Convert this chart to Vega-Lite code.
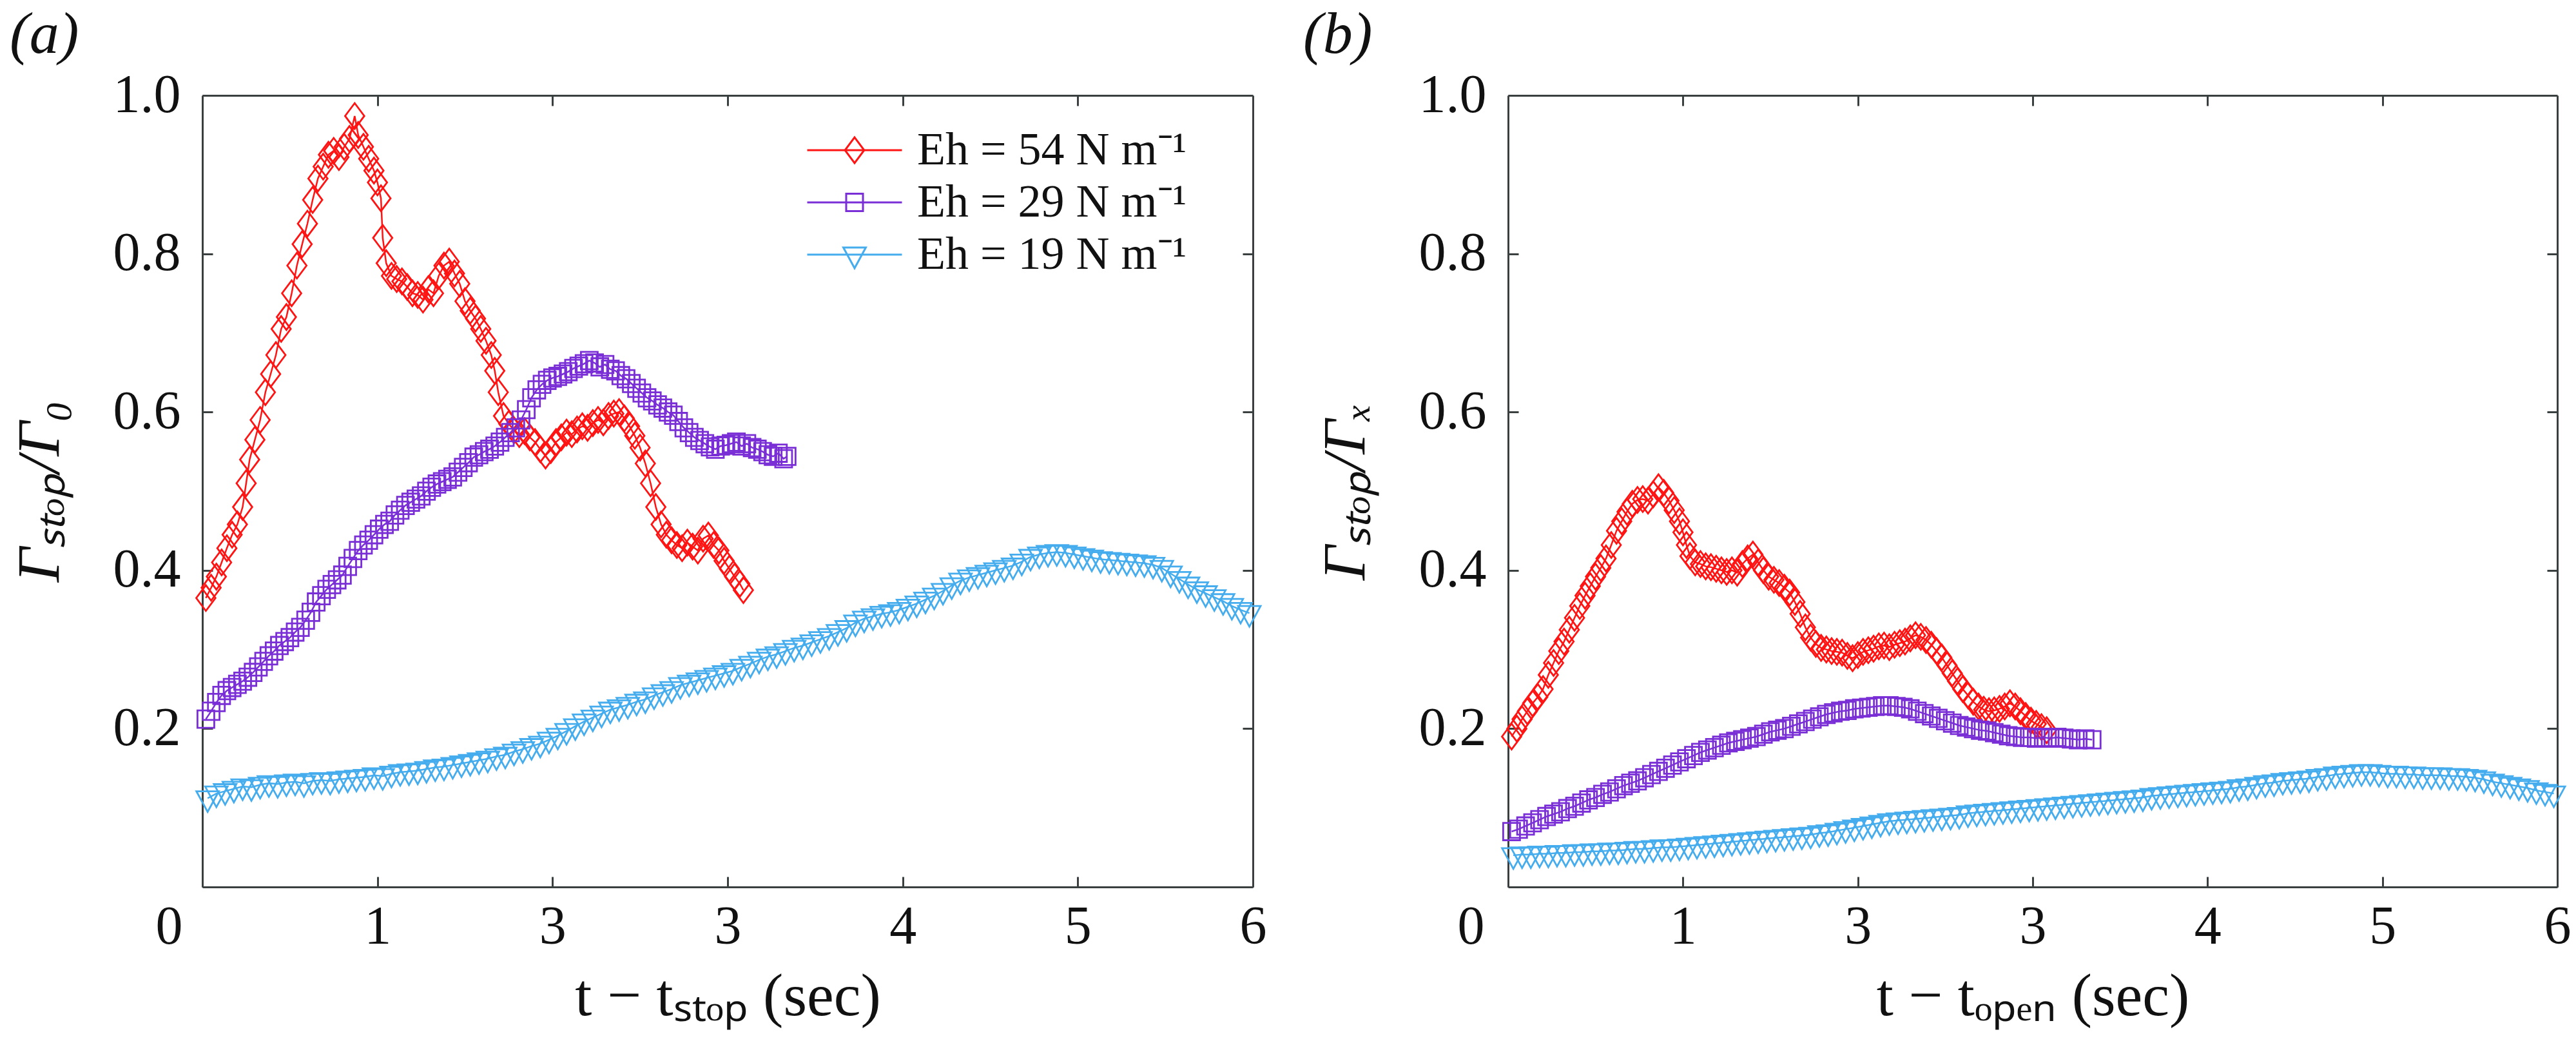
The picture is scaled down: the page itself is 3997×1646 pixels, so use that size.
{
  "$schema": "https://vega.github.io/schema/vega-lite/v6.json",
  "background": "white",
  "padding": {"left": 15, "top": 8, "right": 25, "bottom": 10},
  "datasets": {
    "a": [
      {"s":"54","t":0.02,"v":0.365},{"s":"54","t":0.05,"v":0.378},{"s":"54","t":0.08,"v":0.392},{"s":"54","t":0.11,"v":0.41},{"s":"54","t":0.14,"v":0.428},{"s":"54","t":0.17,"v":0.445},{"s":"54","t":0.2,"v":0.458},{"s":"54","t":0.23,"v":0.48},{"s":"54","t":0.25,"v":0.51},{"s":"54","t":0.27,"v":0.54},{"s":"54","t":0.3,"v":0.565},{"s":"54","t":0.33,"v":0.59},{"s":"54","t":0.36,"v":0.625},{"s":"54","t":0.39,"v":0.648},{"s":"54","t":0.42,"v":0.672},{"s":"54","t":0.45,"v":0.705},{"s":"54","t":0.48,"v":0.72},{"s":"54","t":0.51,"v":0.75},{"s":"54","t":0.54,"v":0.785},{"s":"54","t":0.57,"v":0.812},{"s":"54","t":0.6,"v":0.838},{"s":"54","t":0.63,"v":0.868},{"s":"54","t":0.66,"v":0.895},{"s":"54","t":0.69,"v":0.91},{"s":"54","t":0.72,"v":0.925},{"s":"54","t":0.75,"v":0.93},{"s":"54","t":0.78,"v":0.922},{"s":"54","t":0.81,"v":0.935},{"s":"54","t":0.84,"v":0.945},{"s":"54","t":0.87,"v":0.974},{"s":"54","t":0.89,"v":0.95},{"s":"54","t":0.92,"v":0.935},{"s":"54","t":0.95,"v":0.92},{"s":"54","t":0.98,"v":0.905},{"s":"54","t":1.0,"v":0.89},{"s":"54","t":1.02,"v":0.87},{"s":"54","t":1.03,"v":0.82},{"s":"54","t":1.05,"v":0.788},{"s":"54","t":1.08,"v":0.772},{"s":"54","t":1.11,"v":0.768},{"s":"54","t":1.14,"v":0.765},{"s":"54","t":1.17,"v":0.758},{"s":"54","t":1.2,"v":0.75},{"s":"54","t":1.23,"v":0.748},{"s":"54","t":1.26,"v":0.742},{"s":"54","t":1.29,"v":0.755},{"s":"54","t":1.32,"v":0.75},{"s":"54","t":1.35,"v":0.772},{"s":"54","t":1.38,"v":0.785},{"s":"54","t":1.41,"v":0.79},{"s":"54","t":1.44,"v":0.775},{"s":"54","t":1.47,"v":0.762},{"s":"54","t":1.5,"v":0.74},{"s":"54","t":1.53,"v":0.728},{"s":"54","t":1.56,"v":0.718},{"s":"54","t":1.59,"v":0.705},{"s":"54","t":1.62,"v":0.69},{"s":"54","t":1.65,"v":0.672},{"s":"54","t":1.67,"v":0.652},{"s":"54","t":1.69,"v":0.625},{"s":"54","t":1.72,"v":0.595},{"s":"54","t":1.75,"v":0.585},{"s":"54","t":1.78,"v":0.577},{"s":"54","t":1.81,"v":0.572},{"s":"54","t":1.84,"v":0.576},{"s":"54","t":1.87,"v":0.568},{"s":"54","t":1.9,"v":0.562},{"s":"54","t":1.93,"v":0.553},{"s":"54","t":1.96,"v":0.545},{"s":"54","t":1.99,"v":0.552},{"s":"54","t":2.02,"v":0.562},{"s":"54","t":2.05,"v":0.568},{"s":"54","t":2.08,"v":0.574},{"s":"54","t":2.11,"v":0.572},{"s":"54","t":2.14,"v":0.578},{"s":"54","t":2.17,"v":0.582},{"s":"54","t":2.2,"v":0.58},{"s":"54","t":2.23,"v":0.586},{"s":"54","t":2.26,"v":0.59},{"s":"54","t":2.29,"v":0.587},{"s":"54","t":2.32,"v":0.595},{"s":"54","t":2.35,"v":0.598},{"s":"54","t":2.38,"v":0.6},{"s":"54","t":2.41,"v":0.592},{"s":"54","t":2.44,"v":0.582},{"s":"54","t":2.47,"v":0.57},{"s":"54","t":2.5,"v":0.555},{"s":"54","t":2.53,"v":0.535},{"s":"54","t":2.56,"v":0.51},{"s":"54","t":2.59,"v":0.48},{"s":"54","t":2.62,"v":0.458},{"s":"54","t":2.65,"v":0.445},{"s":"54","t":2.68,"v":0.438},{"s":"54","t":2.71,"v":0.432},{"s":"54","t":2.74,"v":0.428},{"s":"54","t":2.77,"v":0.435},{"s":"54","t":2.8,"v":0.43},{"s":"54","t":2.83,"v":0.425},{"s":"54","t":2.86,"v":0.44},{"s":"54","t":2.89,"v":0.444},{"s":"54","t":2.92,"v":0.432},{"s":"54","t":2.95,"v":0.425},{"s":"54","t":2.98,"v":0.412},{"s":"54","t":3.01,"v":0.402},{"s":"54","t":3.04,"v":0.392},{"s":"54","t":3.07,"v":0.383},{"s":"54","t":3.09,"v":0.375},
      {"s":"29","t":0.02,"v":0.212},{"s":"29","t":0.05,"v":0.222},{"s":"29","t":0.08,"v":0.233},{"s":"29","t":0.11,"v":0.242},{"s":"29","t":0.14,"v":0.248},{"s":"29","t":0.17,"v":0.252},{"s":"29","t":0.2,"v":0.256},{"s":"29","t":0.23,"v":0.26},{"s":"29","t":0.26,"v":0.265},{"s":"29","t":0.29,"v":0.271},{"s":"29","t":0.32,"v":0.278},{"s":"29","t":0.35,"v":0.285},{"s":"29","t":0.38,"v":0.292},{"s":"29","t":0.41,"v":0.298},{"s":"29","t":0.44,"v":0.305},{"s":"29","t":0.47,"v":0.31},{"s":"29","t":0.5,"v":0.315},{"s":"29","t":0.53,"v":0.322},{"s":"29","t":0.56,"v":0.328},{"s":"29","t":0.59,"v":0.337},{"s":"29","t":0.62,"v":0.347},{"s":"29","t":0.65,"v":0.36},{"s":"29","t":0.68,"v":0.368},{"s":"29","t":0.71,"v":0.376},{"s":"29","t":0.74,"v":0.382},{"s":"29","t":0.77,"v":0.388},{"s":"29","t":0.8,"v":0.394},{"s":"29","t":0.83,"v":0.405},{"s":"29","t":0.86,"v":0.415},{"s":"29","t":0.89,"v":0.425},{"s":"29","t":0.92,"v":0.432},{"s":"29","t":0.95,"v":0.438},{"s":"29","t":0.98,"v":0.445},{"s":"29","t":1.01,"v":0.452},{"s":"29","t":1.04,"v":0.458},{"s":"29","t":1.07,"v":0.462},{"s":"29","t":1.1,"v":0.47},{"s":"29","t":1.13,"v":0.476},{"s":"29","t":1.16,"v":0.482},{"s":"29","t":1.19,"v":0.486},{"s":"29","t":1.22,"v":0.49},{"s":"29","t":1.25,"v":0.494},{"s":"29","t":1.28,"v":0.5},{"s":"29","t":1.31,"v":0.505},{"s":"29","t":1.34,"v":0.509},{"s":"29","t":1.37,"v":0.512},{"s":"29","t":1.4,"v":0.515},{"s":"29","t":1.43,"v":0.518},{"s":"29","t":1.46,"v":0.524},{"s":"29","t":1.49,"v":0.53},{"s":"29","t":1.52,"v":0.536},{"s":"29","t":1.55,"v":0.543},{"s":"29","t":1.58,"v":0.546},{"s":"29","t":1.61,"v":0.55},{"s":"29","t":1.64,"v":0.553},{"s":"29","t":1.67,"v":0.557},{"s":"29","t":1.7,"v":0.562},{"s":"29","t":1.73,"v":0.568},{"s":"29","t":1.76,"v":0.574},{"s":"29","t":1.79,"v":0.58},{"s":"29","t":1.82,"v":0.59},{"s":"29","t":1.85,"v":0.603},{"s":"29","t":1.88,"v":0.618},{"s":"29","t":1.91,"v":0.628},{"s":"29","t":1.94,"v":0.635},{"s":"29","t":1.97,"v":0.64},{"s":"29","t":2.0,"v":0.643},{"s":"29","t":2.03,"v":0.645},{"s":"29","t":2.06,"v":0.648},{"s":"29","t":2.09,"v":0.651},{"s":"29","t":2.12,"v":0.655},{"s":"29","t":2.15,"v":0.658},{"s":"29","t":2.18,"v":0.661},{"s":"29","t":2.21,"v":0.665},{"s":"29","t":2.24,"v":0.662},{"s":"29","t":2.27,"v":0.657},{"s":"29","t":2.3,"v":0.66},{"s":"29","t":2.33,"v":0.654},{"s":"29","t":2.36,"v":0.652},{"s":"29","t":2.39,"v":0.646},{"s":"29","t":2.42,"v":0.642},{"s":"29","t":2.45,"v":0.636},{"s":"29","t":2.48,"v":0.63},{"s":"29","t":2.51,"v":0.624},{"s":"29","t":2.54,"v":0.618},{"s":"29","t":2.57,"v":0.614},{"s":"29","t":2.6,"v":0.609},{"s":"29","t":2.63,"v":0.605},{"s":"29","t":2.66,"v":0.6},{"s":"29","t":2.69,"v":0.596},{"s":"29","t":2.72,"v":0.588},{"s":"29","t":2.75,"v":0.58},{"s":"29","t":2.78,"v":0.574},{"s":"29","t":2.81,"v":0.568},{"s":"29","t":2.84,"v":0.564},{"s":"29","t":2.87,"v":0.56},{"s":"29","t":2.9,"v":0.556},{"s":"29","t":2.93,"v":0.553},{"s":"29","t":2.96,"v":0.557},{"s":"29","t":2.99,"v":0.558},{"s":"29","t":3.02,"v":0.56},{"s":"29","t":3.05,"v":0.562},{"s":"29","t":3.08,"v":0.557},{"s":"29","t":3.11,"v":0.56},{"s":"29","t":3.14,"v":0.555},{"s":"29","t":3.17,"v":0.553},{"s":"29","t":3.2,"v":0.55},{"s":"29","t":3.23,"v":0.546},{"s":"29","t":3.26,"v":0.544},{"s":"29","t":3.29,"v":0.548},{"s":"29","t":3.32,"v":0.541},{"s":"29","t":3.34,"v":0.544},
      {"s":"19","t":0.03,"v":0.112},{"s":"19","t":0.08,"v":0.118},{"s":"19","t":0.13,"v":0.121},{"s":"19","t":0.18,"v":0.124},{"s":"19","t":0.23,"v":0.127},{"s":"19","t":0.28,"v":0.126},{"s":"19","t":0.33,"v":0.129},{"s":"19","t":0.38,"v":0.131},{"s":"19","t":0.43,"v":0.13},{"s":"19","t":0.48,"v":0.132},{"s":"19","t":0.53,"v":0.133},{"s":"19","t":0.58,"v":0.131},{"s":"19","t":0.63,"v":0.134},{"s":"19","t":0.68,"v":0.135},{"s":"19","t":0.73,"v":0.134},{"s":"19","t":0.78,"v":0.136},{"s":"19","t":0.83,"v":0.137},{"s":"19","t":0.88,"v":0.138},{"s":"19","t":0.93,"v":0.139},{"s":"19","t":0.98,"v":0.141},{"s":"19","t":1.03,"v":0.14},{"s":"19","t":1.08,"v":0.143},{"s":"19","t":1.13,"v":0.145},{"s":"19","t":1.18,"v":0.146},{"s":"19","t":1.23,"v":0.147},{"s":"19","t":1.28,"v":0.149},{"s":"19","t":1.33,"v":0.151},{"s":"19","t":1.38,"v":0.152},{"s":"19","t":1.43,"v":0.154},{"s":"19","t":1.48,"v":0.156},{"s":"19","t":1.53,"v":0.158},{"s":"19","t":1.58,"v":0.16},{"s":"19","t":1.63,"v":0.162},{"s":"19","t":1.68,"v":0.165},{"s":"19","t":1.73,"v":0.167},{"s":"19","t":1.78,"v":0.171},{"s":"19","t":1.83,"v":0.174},{"s":"19","t":1.88,"v":0.178},{"s":"19","t":1.93,"v":0.181},{"s":"19","t":1.98,"v":0.186},{"s":"19","t":2.03,"v":0.191},{"s":"19","t":2.08,"v":0.197},{"s":"19","t":2.13,"v":0.203},{"s":"19","t":2.18,"v":0.209},{"s":"19","t":2.23,"v":0.214},{"s":"19","t":2.28,"v":0.219},{"s":"19","t":2.33,"v":0.224},{"s":"19","t":2.38,"v":0.227},{"s":"19","t":2.43,"v":0.23},{"s":"19","t":2.48,"v":0.234},{"s":"19","t":2.53,"v":0.237},{"s":"19","t":2.58,"v":0.242},{"s":"19","t":2.63,"v":0.246},{"s":"19","t":2.68,"v":0.25},{"s":"19","t":2.73,"v":0.255},{"s":"19","t":2.78,"v":0.258},{"s":"19","t":2.83,"v":0.261},{"s":"19","t":2.88,"v":0.264},{"s":"19","t":2.93,"v":0.267},{"s":"19","t":2.98,"v":0.27},{"s":"19","t":3.03,"v":0.273},{"s":"19","t":3.08,"v":0.278},{"s":"19","t":3.13,"v":0.282},{"s":"19","t":3.18,"v":0.287},{"s":"19","t":3.23,"v":0.291},{"s":"19","t":3.28,"v":0.294},{"s":"19","t":3.33,"v":0.298},{"s":"19","t":3.38,"v":0.302},{"s":"19","t":3.43,"v":0.305},{"s":"19","t":3.48,"v":0.309},{"s":"19","t":3.53,"v":0.313},{"s":"19","t":3.58,"v":0.317},{"s":"19","t":3.63,"v":0.322},{"s":"19","t":3.68,"v":0.327},{"s":"19","t":3.73,"v":0.334},{"s":"19","t":3.78,"v":0.339},{"s":"19","t":3.83,"v":0.342},{"s":"19","t":3.88,"v":0.345},{"s":"19","t":3.93,"v":0.347},{"s":"19","t":3.98,"v":0.35},{"s":"19","t":4.03,"v":0.354},{"s":"19","t":4.08,"v":0.358},{"s":"19","t":4.13,"v":0.363},{"s":"19","t":4.18,"v":0.368},{"s":"19","t":4.23,"v":0.374},{"s":"19","t":4.28,"v":0.381},{"s":"19","t":4.33,"v":0.387},{"s":"19","t":4.38,"v":0.391},{"s":"19","t":4.43,"v":0.394},{"s":"19","t":4.48,"v":0.397},{"s":"19","t":4.53,"v":0.4},{"s":"19","t":4.58,"v":0.403},{"s":"19","t":4.63,"v":0.406},{"s":"19","t":4.68,"v":0.411},{"s":"19","t":4.73,"v":0.417},{"s":"19","t":4.78,"v":0.42},{"s":"19","t":4.83,"v":0.422},{"s":"19","t":4.88,"v":0.423},{"s":"19","t":4.93,"v":0.422},{"s":"19","t":4.98,"v":0.42},{"s":"19","t":5.03,"v":0.418},{"s":"19","t":5.08,"v":0.416},{"s":"19","t":5.13,"v":0.414},{"s":"19","t":5.18,"v":0.413},{"s":"19","t":5.23,"v":0.412},{"s":"19","t":5.28,"v":0.411},{"s":"19","t":5.33,"v":0.41},{"s":"19","t":5.38,"v":0.409},{"s":"19","t":5.43,"v":0.407},{"s":"19","t":5.48,"v":0.403},{"s":"19","t":5.53,"v":0.396},{"s":"19","t":5.58,"v":0.389},{"s":"19","t":5.63,"v":0.382},{"s":"19","t":5.68,"v":0.376},{"s":"19","t":5.73,"v":0.371},{"s":"19","t":5.78,"v":0.366},{"s":"19","t":5.83,"v":0.361},{"s":"19","t":5.88,"v":0.355},{"s":"19","t":5.93,"v":0.35},{"s":"19","t":5.98,"v":0.346}
    ],
    "b": [
      {"s":"54","t":0.02,"v":0.19},{"s":"54","t":0.05,"v":0.2},{"s":"54","t":0.08,"v":0.212},{"s":"54","t":0.11,"v":0.222},{"s":"54","t":0.14,"v":0.232},{"s":"54","t":0.17,"v":0.24},{"s":"54","t":0.2,"v":0.25},{"s":"54","t":0.23,"v":0.268},{"s":"54","t":0.26,"v":0.283},{"s":"54","t":0.29,"v":0.298},{"s":"54","t":0.32,"v":0.31},{"s":"54","t":0.35,"v":0.325},{"s":"54","t":0.38,"v":0.34},{"s":"54","t":0.41,"v":0.355},{"s":"54","t":0.44,"v":0.368},{"s":"54","t":0.47,"v":0.38},{"s":"54","t":0.5,"v":0.392},{"s":"54","t":0.53,"v":0.403},{"s":"54","t":0.56,"v":0.415},{"s":"54","t":0.59,"v":0.432},{"s":"54","t":0.62,"v":0.45},{"s":"54","t":0.65,"v":0.462},{"s":"54","t":0.68,"v":0.474},{"s":"54","t":0.71,"v":0.484},{"s":"54","t":0.74,"v":0.489},{"s":"54","t":0.77,"v":0.49},{"s":"54","t":0.8,"v":0.488},{"s":"54","t":0.83,"v":0.496},{"s":"54","t":0.86,"v":0.505},{"s":"54","t":0.89,"v":0.498},{"s":"54","t":0.92,"v":0.488},{"s":"54","t":0.95,"v":0.476},{"s":"54","t":0.98,"v":0.462},{"s":"54","t":1.0,"v":0.448},{"s":"54","t":1.02,"v":0.432},{"s":"54","t":1.04,"v":0.418},{"s":"54","t":1.07,"v":0.41},{"s":"54","t":1.1,"v":0.408},{"s":"54","t":1.13,"v":0.405},{"s":"54","t":1.16,"v":0.404},{"s":"54","t":1.19,"v":0.402},{"s":"54","t":1.22,"v":0.4},{"s":"54","t":1.25,"v":0.398},{"s":"54","t":1.28,"v":0.4},{"s":"54","t":1.31,"v":0.397},{"s":"54","t":1.34,"v":0.408},{"s":"54","t":1.37,"v":0.415},{"s":"54","t":1.4,"v":0.42},{"s":"54","t":1.43,"v":0.41},{"s":"54","t":1.46,"v":0.4},{"s":"54","t":1.49,"v":0.392},{"s":"54","t":1.52,"v":0.388},{"s":"54","t":1.55,"v":0.384},{"s":"54","t":1.58,"v":0.378},{"s":"54","t":1.61,"v":0.372},{"s":"54","t":1.64,"v":0.36},{"s":"54","t":1.67,"v":0.345},{"s":"54","t":1.7,"v":0.328},{"s":"54","t":1.73,"v":0.315},{"s":"54","t":1.76,"v":0.307},{"s":"54","t":1.79,"v":0.302},{"s":"54","t":1.82,"v":0.3},{"s":"54","t":1.85,"v":0.298},{"s":"54","t":1.88,"v":0.297},{"s":"54","t":1.91,"v":0.296},{"s":"54","t":1.94,"v":0.292},{"s":"54","t":1.97,"v":0.289},{"s":"54","t":2.0,"v":0.293},{"s":"54","t":2.03,"v":0.297},{"s":"54","t":2.06,"v":0.299},{"s":"54","t":2.09,"v":0.301},{"s":"54","t":2.12,"v":0.304},{"s":"54","t":2.15,"v":0.305},{"s":"54","t":2.18,"v":0.303},{"s":"54","t":2.21,"v":0.306},{"s":"54","t":2.24,"v":0.308},{"s":"54","t":2.27,"v":0.31},{"s":"54","t":2.3,"v":0.314},{"s":"54","t":2.33,"v":0.318},{"s":"54","t":2.36,"v":0.316},{"s":"54","t":2.39,"v":0.312},{"s":"54","t":2.42,"v":0.306},{"s":"54","t":2.45,"v":0.298},{"s":"54","t":2.48,"v":0.29},{"s":"54","t":2.51,"v":0.28},{"s":"54","t":2.54,"v":0.27},{"s":"54","t":2.57,"v":0.26},{"s":"54","t":2.6,"v":0.25},{"s":"54","t":2.63,"v":0.242},{"s":"54","t":2.66,"v":0.234},{"s":"54","t":2.69,"v":0.228},{"s":"54","t":2.72,"v":0.224},{"s":"54","t":2.75,"v":0.222},{"s":"54","t":2.78,"v":0.223},{"s":"54","t":2.81,"v":0.225},{"s":"54","t":2.84,"v":0.228},{"s":"54","t":2.87,"v":0.232},{"s":"54","t":2.9,"v":0.228},{"s":"54","t":2.93,"v":0.222},{"s":"54","t":2.96,"v":0.216},{"s":"54","t":2.99,"v":0.21},{"s":"54","t":3.02,"v":0.206},{"s":"54","t":3.05,"v":0.202},{"s":"54","t":3.08,"v":0.198},
      {"s":"29","t":0.02,"v":0.07},{"s":"29","t":0.06,"v":0.073},{"s":"29","t":0.1,"v":0.077},{"s":"29","t":0.14,"v":0.081},{"s":"29","t":0.18,"v":0.085},{"s":"29","t":0.22,"v":0.089},{"s":"29","t":0.26,"v":0.092},{"s":"29","t":0.3,"v":0.095},{"s":"29","t":0.34,"v":0.099},{"s":"29","t":0.38,"v":0.102},{"s":"29","t":0.42,"v":0.106},{"s":"29","t":0.46,"v":0.11},{"s":"29","t":0.5,"v":0.113},{"s":"29","t":0.54,"v":0.117},{"s":"29","t":0.58,"v":0.12},{"s":"29","t":0.62,"v":0.124},{"s":"29","t":0.66,"v":0.128},{"s":"29","t":0.7,"v":0.131},{"s":"29","t":0.74,"v":0.134},{"s":"29","t":0.78,"v":0.138},{"s":"29","t":0.82,"v":0.142},{"s":"29","t":0.86,"v":0.146},{"s":"29","t":0.9,"v":0.15},{"s":"29","t":0.94,"v":0.154},{"s":"29","t":0.98,"v":0.158},{"s":"29","t":1.02,"v":0.162},{"s":"29","t":1.06,"v":0.166},{"s":"29","t":1.1,"v":0.17},{"s":"29","t":1.14,"v":0.173},{"s":"29","t":1.18,"v":0.176},{"s":"29","t":1.22,"v":0.179},{"s":"29","t":1.26,"v":0.182},{"s":"29","t":1.3,"v":0.184},{"s":"29","t":1.34,"v":0.186},{"s":"29","t":1.38,"v":0.188},{"s":"29","t":1.42,"v":0.19},{"s":"29","t":1.46,"v":0.193},{"s":"29","t":1.5,"v":0.196},{"s":"29","t":1.54,"v":0.198},{"s":"29","t":1.58,"v":0.2},{"s":"29","t":1.62,"v":0.203},{"s":"29","t":1.66,"v":0.206},{"s":"29","t":1.7,"v":0.209},{"s":"29","t":1.74,"v":0.212},{"s":"29","t":1.78,"v":0.215},{"s":"29","t":1.82,"v":0.218},{"s":"29","t":1.86,"v":0.22},{"s":"29","t":1.9,"v":0.222},{"s":"29","t":1.94,"v":0.223},{"s":"29","t":1.98,"v":0.225},{"s":"29","t":2.02,"v":0.226},{"s":"29","t":2.06,"v":0.227},{"s":"29","t":2.1,"v":0.228},{"s":"29","t":2.14,"v":0.229},{"s":"29","t":2.18,"v":0.229},{"s":"29","t":2.22,"v":0.228},{"s":"29","t":2.26,"v":0.227},{"s":"29","t":2.3,"v":0.225},{"s":"29","t":2.34,"v":0.222},{"s":"29","t":2.38,"v":0.219},{"s":"29","t":2.42,"v":0.216},{"s":"29","t":2.46,"v":0.213},{"s":"29","t":2.5,"v":0.21},{"s":"29","t":2.54,"v":0.207},{"s":"29","t":2.58,"v":0.204},{"s":"29","t":2.62,"v":0.202},{"s":"29","t":2.66,"v":0.2},{"s":"29","t":2.7,"v":0.198},{"s":"29","t":2.74,"v":0.197},{"s":"29","t":2.78,"v":0.195},{"s":"29","t":2.82,"v":0.193},{"s":"29","t":2.86,"v":0.191},{"s":"29","t":2.9,"v":0.19},{"s":"29","t":2.94,"v":0.189},{"s":"29","t":2.98,"v":0.189},{"s":"29","t":3.02,"v":0.188},{"s":"29","t":3.06,"v":0.189},{"s":"29","t":3.1,"v":0.188},{"s":"29","t":3.14,"v":0.189},{"s":"29","t":3.18,"v":0.188},{"s":"29","t":3.22,"v":0.187},{"s":"29","t":3.26,"v":0.186},{"s":"29","t":3.3,"v":0.187},{"s":"29","t":3.34,"v":0.186},
      {"s":"19","t":0.03,"v":0.04},{"s":"19","t":0.08,"v":0.041},{"s":"19","t":0.13,"v":0.041},{"s":"19","t":0.18,"v":0.042},{"s":"19","t":0.23,"v":0.042},{"s":"19","t":0.28,"v":0.043},{"s":"19","t":0.33,"v":0.043},{"s":"19","t":0.38,"v":0.044},{"s":"19","t":0.43,"v":0.044},{"s":"19","t":0.48,"v":0.045},{"s":"19","t":0.53,"v":0.045},{"s":"19","t":0.58,"v":0.046},{"s":"19","t":0.63,"v":0.046},{"s":"19","t":0.68,"v":0.047},{"s":"19","t":0.73,"v":0.048},{"s":"19","t":0.78,"v":0.048},{"s":"19","t":0.83,"v":0.049},{"s":"19","t":0.88,"v":0.05},{"s":"19","t":0.93,"v":0.05},{"s":"19","t":0.98,"v":0.051},{"s":"19","t":1.03,"v":0.052},{"s":"19","t":1.08,"v":0.053},{"s":"19","t":1.13,"v":0.054},{"s":"19","t":1.18,"v":0.055},{"s":"19","t":1.23,"v":0.056},{"s":"19","t":1.28,"v":0.057},{"s":"19","t":1.33,"v":0.058},{"s":"19","t":1.38,"v":0.059},{"s":"19","t":1.43,"v":0.06},{"s":"19","t":1.48,"v":0.061},{"s":"19","t":1.53,"v":0.062},{"s":"19","t":1.58,"v":0.063},{"s":"19","t":1.63,"v":0.064},{"s":"19","t":1.68,"v":0.065},{"s":"19","t":1.73,"v":0.066},{"s":"19","t":1.78,"v":0.068},{"s":"19","t":1.83,"v":0.069},{"s":"19","t":1.88,"v":0.071},{"s":"19","t":1.93,"v":0.073},{"s":"19","t":1.98,"v":0.075},{"s":"19","t":2.03,"v":0.077},{"s":"19","t":2.08,"v":0.079},{"s":"19","t":2.13,"v":0.081},{"s":"19","t":2.18,"v":0.083},{"s":"19","t":2.23,"v":0.084},{"s":"19","t":2.28,"v":0.085},{"s":"19","t":2.33,"v":0.086},{"s":"19","t":2.38,"v":0.087},{"s":"19","t":2.43,"v":0.088},{"s":"19","t":2.48,"v":0.089},{"s":"19","t":2.53,"v":0.09},{"s":"19","t":2.58,"v":0.091},{"s":"19","t":2.63,"v":0.093},{"s":"19","t":2.68,"v":0.094},{"s":"19","t":2.73,"v":0.095},{"s":"19","t":2.78,"v":0.096},{"s":"19","t":2.83,"v":0.097},{"s":"19","t":2.88,"v":0.098},{"s":"19","t":2.93,"v":0.099},{"s":"19","t":2.98,"v":0.1},{"s":"19","t":3.03,"v":0.101},{"s":"19","t":3.08,"v":0.102},{"s":"19","t":3.13,"v":0.103},{"s":"19","t":3.18,"v":0.104},{"s":"19","t":3.23,"v":0.105},{"s":"19","t":3.28,"v":0.106},{"s":"19","t":3.33,"v":0.107},{"s":"19","t":3.38,"v":0.108},{"s":"19","t":3.43,"v":0.109},{"s":"19","t":3.48,"v":0.11},{"s":"19","t":3.53,"v":0.111},{"s":"19","t":3.58,"v":0.112},{"s":"19","t":3.63,"v":0.113},{"s":"19","t":3.68,"v":0.115},{"s":"19","t":3.73,"v":0.116},{"s":"19","t":3.78,"v":0.117},{"s":"19","t":3.83,"v":0.118},{"s":"19","t":3.88,"v":0.119},{"s":"19","t":3.93,"v":0.12},{"s":"19","t":3.98,"v":0.121},{"s":"19","t":4.03,"v":0.122},{"s":"19","t":4.08,"v":0.123},{"s":"19","t":4.13,"v":0.124},{"s":"19","t":4.18,"v":0.126},{"s":"19","t":4.23,"v":0.127},{"s":"19","t":4.28,"v":0.129},{"s":"19","t":4.33,"v":0.131},{"s":"19","t":4.38,"v":0.132},{"s":"19","t":4.43,"v":0.134},{"s":"19","t":4.48,"v":0.135},{"s":"19","t":4.53,"v":0.136},{"s":"19","t":4.58,"v":0.137},{"s":"19","t":4.63,"v":0.139},{"s":"19","t":4.68,"v":0.14},{"s":"19","t":4.73,"v":0.142},{"s":"19","t":4.78,"v":0.143},{"s":"19","t":4.83,"v":0.144},{"s":"19","t":4.88,"v":0.145},{"s":"19","t":4.93,"v":0.145},{"s":"19","t":4.98,"v":0.144},{"s":"19","t":5.03,"v":0.143},{"s":"19","t":5.08,"v":0.143},{"s":"19","t":5.13,"v":0.142},{"s":"19","t":5.18,"v":0.142},{"s":"19","t":5.23,"v":0.141},{"s":"19","t":5.28,"v":0.141},{"s":"19","t":5.33,"v":0.141},{"s":"19","t":5.38,"v":0.14},{"s":"19","t":5.43,"v":0.14},{"s":"19","t":5.48,"v":0.139},{"s":"19","t":5.53,"v":0.138},{"s":"19","t":5.58,"v":0.136},{"s":"19","t":5.63,"v":0.133},{"s":"19","t":5.68,"v":0.131},{"s":"19","t":5.73,"v":0.129},{"s":"19","t":5.78,"v":0.127},{"s":"19","t":5.83,"v":0.125},{"s":"19","t":5.88,"v":0.122},{"s":"19","t":5.93,"v":0.12},{"s":"19","t":5.98,"v":0.118}
    ]
  },
  "hconcat": [
    {
      "width": 1630,
      "height": 1228,
      "title": {"text": "(a)", "anchor": "start", "frame": "bounds", "offset": 5},
      "data": {"name": "a"},
      "layer": [
        {
          "transform": [{"filter": "datum.s == '54'"}],
          "mark": {"type": "line", "color": "#FF1414", "strokeWidth": 2.5, "clip": false,
            "point": {"shape": "M0,-0.95L0.71,0L0,0.95L-0.71,0Z", "filled": false, "size": 1764, "strokeWidth": 2.8, "opacity": 1, "color": "#FF1414"}},
          "encoding": {
            "x": {"field": "t", "type": "quantitative", "scale": {"domain": [0, 6], "nice": false},
              "axis": {"orient": "bottom", "values": [0, 1, 2, 3, 4, 5, 6], "labelExpr": "datum.value == 2 ? '3' : datum.label",
                "labelOffset": {"condition": {"test": "datum.value == 0", "value": -52}, "value": 0},
                "title": "t − tₛₜₒₚ (sec)"}},
            "y": {"field": "v", "type": "quantitative", "scale": {"domain": [0, 1], "nice": false},
              "axis": {"orient": "left", "values": [0.2, 0.4, 0.6, 0.8, 1.0], "format": ".1f", "title": "Γₛₜₒₚ/Γ₀", "titleFontStyle": "italic"}}
          }
        },
        {
          "transform": [{"filter": "datum.s == '29'"}],
          "mark": {"type": "line", "color": "#7A2FD6", "strokeWidth": 2.5, "clip": false,
            "point": {"shape": "M-0.62,-0.64L0.62,-0.64L0.62,0.64L-0.62,0.64Z", "filled": false, "size": 1764, "strokeWidth": 2.8, "opacity": 1, "color": "#7A2FD6"}},
          "encoding": {
            "x": {"field": "t", "type": "quantitative", "axis": null},
            "y": {"field": "v", "type": "quantitative", "axis": null}
          }
        },
        {
          "transform": [{"filter": "datum.s == '19'"}],
          "mark": {"type": "line", "color": "#45ACEE", "strokeWidth": 2.5, "clip": false,
            "point": {"shape": "M-0.83,-0.52L0.83,-0.52L0,1Z", "filled": false, "size": 1764, "strokeWidth": 2.8, "opacity": 1, "color": "#45ACEE"}},
          "encoding": {
            "x": {"field": "t", "type": "quantitative", "axis": null},
            "y": {"field": "v", "type": "quantitative", "axis": null}
          }
        },
        {
          "mark": {"type": "point", "opacity": 0},
          "encoding": {
            "x": {"field": "t", "type": "quantitative", "axis": {"orient": "top", "values": [1, 2, 3, 4, 5], "labels": false, "title": null}},
            "y": {"field": "v", "type": "quantitative", "axis": {"orient": "right", "values": [0.2, 0.4, 0.6, 0.8], "labels": false, "title": null}}
          }
        },
        {
          "transform": [{"filter": "false"}],
          "mark": {"type": "point", "filled": false, "opacity": 1, "strokeWidth": 3},
          "encoding": {
            "x": {"field": "t", "type": "quantitative", "axis": null},
            "y": {"field": "v", "type": "quantitative", "axis": null},
            "color": {"field": "s", "type": "nominal",
              "scale": {"domain": ["54", "29", "19"], "range": ["#FF1414", "#7A2FD6", "#45ACEE"]},
              "legend": {"orient": "none", "legendX": 976, "legendY": 49, "title": null, "padding": 0,
                "labelExpr": "'Eh = ' + datum.label + ' N m⁻¹'", "labelOffset": 61, "rowPadding": 9, "labelLimit": 1000,
                "symbolSize": 1764, "symbolStrokeWidth": 3, "symbolFillColor": "transparent"}},
            "shape": {"field": "s", "type": "nominal",
              "scale": {"domain": ["54", "29", "19"], "range": ["M-3.5,0L3.5,0M0,-0.95L0.71,0L0,0.95L-0.71,0Z", "M-3.5,0L3.5,0M-0.62,-0.64L0.62,-0.64L0.62,0.64L-0.62,0.64Z", "M-3.5,0L3.5,0M-0.83,-0.52L0.83,-0.52L0,1Z"]},
              "legend": {"orient": "none", "legendX": 976, "legendY": 49, "title": null, "padding": 0,
                "labelExpr": "'Eh = ' + datum.label + ' N m⁻¹'", "labelOffset": 61, "rowPadding": 9, "labelLimit": 1000,
                "symbolSize": 1764, "symbolStrokeWidth": 3, "symbolFillColor": "transparent"}}
          }
        }
      ],
      "resolve": {"axis": {"x": "independent", "y": "independent"}}
    },
    {
      "width": 1628,
      "height": 1228,
      "title": {"text": "(b)", "anchor": "start", "frame": "bounds", "offset": 5, "dx": -19},
      "data": {"name": "b"},
      "layer": [
        {
          "transform": [{"filter": "datum.s == '54'"}],
          "mark": {"type": "line", "color": "#FF1414", "strokeWidth": 2.5, "clip": false,
            "point": {"shape": "M0,-0.95L0.71,0L0,0.95L-0.71,0Z", "filled": false, "size": 1764, "strokeWidth": 2.8, "opacity": 1, "color": "#FF1414"}},
          "encoding": {
            "x": {"field": "t", "type": "quantitative", "scale": {"domain": [0, 6], "nice": false},
              "axis": {"orient": "bottom", "values": [0, 1, 2, 3, 4, 5, 6], "labelExpr": "datum.value == 2 ? '3' : datum.label",
                "labelOffset": {"condition": {"test": "datum.value == 0", "value": -58}, "value": 0},
                "title": "t − tₒₚₑₙ (sec)"}},
            "y": {"field": "v", "type": "quantitative", "scale": {"domain": [0, 1], "nice": false},
              "axis": {"orient": "left", "values": [0.2, 0.4, 0.6, 0.8, 1.0], "format": ".1f", "title": "Γₛₜₒₚ/Γₓ", "titleFontStyle": "italic"}}
          }
        },
        {
          "transform": [{"filter": "datum.s == '29'"}],
          "mark": {"type": "line", "color": "#7A2FD6", "strokeWidth": 2.5, "clip": false,
            "point": {"shape": "M-0.62,-0.64L0.62,-0.64L0.62,0.64L-0.62,0.64Z", "filled": false, "size": 1764, "strokeWidth": 2.8, "opacity": 1, "color": "#7A2FD6"}},
          "encoding": {
            "x": {"field": "t", "type": "quantitative", "axis": null},
            "y": {"field": "v", "type": "quantitative", "axis": null}
          }
        },
        {
          "transform": [{"filter": "datum.s == '19'"}],
          "mark": {"type": "line", "color": "#45ACEE", "strokeWidth": 2.5, "clip": false,
            "point": {"shape": "M-0.83,-0.52L0.83,-0.52L0,1Z", "filled": false, "size": 1764, "strokeWidth": 2.8, "opacity": 1, "color": "#45ACEE"}},
          "encoding": {
            "x": {"field": "t", "type": "quantitative", "axis": null},
            "y": {"field": "v", "type": "quantitative", "axis": null}
          }
        },
        {
          "mark": {"type": "point", "opacity": 0},
          "encoding": {
            "x": {"field": "t", "type": "quantitative", "axis": {"orient": "top", "values": [1, 2, 3, 4, 5], "labels": false, "title": null}},
            "y": {"field": "v", "type": "quantitative", "axis": {"orient": "right", "values": [0.2, 0.4, 0.6, 0.8], "labels": false, "title": null}}
          }
        }
      ],
      "resolve": {"axis": {"x": "independent", "y": "independent"}}
    }
  ],
  "spacing": 57,
  "resolve": {"scale": {"color": "independent", "shape": "independent"}, "legend": {"color": "independent", "shape": "independent"}},
  "config": {
    "font": "Liberation Serif",
    "view": {"stroke": null},
    "title": {"font": "Liberation Serif", "fontSize": 92, "fontStyle": "italic", "fontWeight": "normal", "color": "#111111"},
    "axis": {
      "domainColor": "#3a3f3f", "domainWidth": 3, "tickColor": "#3a3f3f", "tickWidth": 3, "tickSize": -16,
      "grid": false, "labelFlush": false, "labelOverlap": false, "labelBound": false,
      "labelFont": "Liberation Serif", "labelFontSize": 84, "labelColor": "#111111",
      "titleFont": "Liberation Serif", "titleFontSize": 94, "titleFontWeight": "normal", "titleColor": "#111111"
    },
    "axisX": {"labelPadding": 37, "titlePadding": 20},
    "axisY": {"labelPadding": 50, "titlePadding": 65},
    "legend": {"labelFont": "Liberation Serif", "labelFontSize": 72, "labelColor": "#111111"}
  }
}
